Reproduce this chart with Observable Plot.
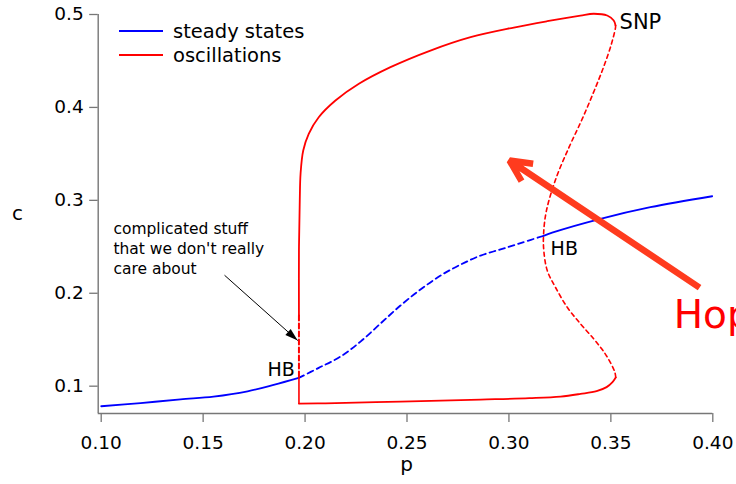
<!DOCTYPE html>
<html>
<head>
<meta charset="utf-8">
<script src="https://cdn.jsdelivr.net/npm/d3@7"></script>
<script src="https://cdn.jsdelivr.net/npm/@observablehq/plot@0.6"></script>
<style>
  html, body { margin: 0; padding: 0; background: #fff; overflow: hidden; }
  #chart { position: relative; width: 736px; height: 484px; }
  .legend { position: absolute; left: 119px; top: 19px; font-family: "DejaVu Sans", sans-serif; font-size: 19.5px; color: #000; }
  .legend .row { display: flex; align-items: center; height: 24px; white-space: nowrap; }
  .legend .sw { display: inline-block; width: 44px; height: 1.7px; margin-right: 10px; }
</style>
</head>
<body>
<div id="chart"></div>
<script>
// Bifurcation diagram: c versus p. Each branch is a list of [p, c] pairs.

// Steady states (blue): stable below the first Hopf point, unstable between, stable above
const steadyLow = [
  [0.1000, 0.0784], [0.1193, 0.0818], [0.1389, 0.0858], [0.1551, 0.0888],
  [0.1718, 0.0945], [0.1846, 0.1014], [0.1969, 0.1089]
];
const steadyUnstable = [
  [0.1969, 0.1089], [0.2067, 0.1197], [0.2174, 0.1319], [0.2272, 0.1480],
  [0.2370, 0.1674], [0.2468, 0.1868], [0.2566, 0.2040], [0.2665, 0.2191],
  [0.2763, 0.2309], [0.2861, 0.2406], [0.2959, 0.2472], [0.3057, 0.2540],
  [0.3170, 0.2618]
];
const steadyHigh = [
  [0.3170, 0.2618], [0.3212, 0.2652], [0.3449, 0.2801], [0.3694, 0.2926], [0.3997, 0.3044]
];

// Oscillations (red): maximum and minimum of the limit cycle
const oscMaxStable = [
  [0.1970, 0.1760], [0.1970, 0.2460], [0.1974, 0.2998], [0.1978, 0.3289],
  [0.1991, 0.3536], [0.2018, 0.3716], [0.2067, 0.3894], [0.2149, 0.4074],
  [0.2264, 0.4254], [0.2419, 0.4433], [0.2615, 0.4612], [0.2812, 0.4756],
  [0.3024, 0.4860], [0.3188, 0.4928], [0.3351, 0.4989], [0.3416, 0.5008],
  [0.3482, 0.4989], [0.3514, 0.4935], [0.3523, 0.4882]
];
const oscUnstable = [
  [0.3523, 0.4882], [0.3523, 0.4863], [0.3503, 0.4685], [0.3464, 0.4433],
  [0.3412, 0.4146], [0.3356, 0.3859], [0.3295, 0.3572], [0.3233, 0.3249],
  [0.3184, 0.2890], [0.3170, 0.2639], [0.3171, 0.2460], [0.3188, 0.2244],
  [0.3228, 0.2065], [0.3286, 0.1849], [0.3351, 0.1671], [0.3416, 0.1509],
  [0.3468, 0.1362], [0.3503, 0.1233], [0.3520, 0.1147], [0.3524, 0.1093]
];
const oscMinStable = [
  [0.1970, 0.0813], [0.2100, 0.0816], [0.2468, 0.0834], [0.2861, 0.0856],
  [0.3100, 0.0871], [0.3253, 0.0888], [0.3351, 0.0917], [0.3430, 0.0947],
  [0.3479, 0.0990], [0.3508, 0.1044], [0.3524, 0.1093]
];
const oscDrop = [[0.1970, 0.1089], [0.1970, 0.0813]];
const oscNearHB = [[0.1970, 0.1760], [0.1970, 0.1089]];

// Labelled points
const hopfLow = [{p: 0.1969, c: 0.1089, label: "HB"}];
const hopfHigh = [{p: 0.3170, c: 0.2618, label: "HB"}];
const saddleNode = [{p: 0.3523, c: 0.4882, label: "SNP"}];

// Annotations
const noteText = "complicated stuff\nthat we don't really\ncare about";
const noteAt = [{p: 0.106, c: 0.2797}];
const noteArrow = [{x1: 0.1605, y1: 0.2194, x2: 0.1964, y2: 0.1491}];
const hopfArrow = [{x1: 0.3935, y1: 0.2061, x2: 0.3003, y2: 0.3428}];

// Axes
const xTicks = [0.10, 0.15, 0.20, 0.25, 0.30, 0.35, 0.40];
const yTicks = [0.1, 0.2, 0.3, 0.4, 0.5];
const xDomain = [0.1, 0.4];
const yDomain = [0.0706, 0.5];

const legendItems = [
  {label: "steady states", color: "#0000ff"},
  {label: "oscillations", color: "#ff0000"}
];

const P = d => d[0], C = d => d[1];

// Narrow filled arrowhead, tip at the origin pointing up
const arrowHead = {
  draw(context) {
    context.moveTo(0, 0);
    context.lineTo(4, 13);
    context.lineTo(-4, 13);
    context.closePath();
  }
};

const chart = Plot.plot({
  width: 736,
  height: 484,
  marginTop: 14,
  marginBottom: 71,
  marginLeft: 97.7,
  marginRight: 23.7,
  style: {fontFamily: "DejaVu Sans, sans-serif", background: "#fff", overflow: "hidden"},
  x: {domain: xDomain, range: [100.7, 712.3]},
  y: {domain: yDomain},
  marks: [
    // axis lines, ticks and tick labels
    Plot.ruleX([xDomain[0]], {dx: -3, stroke: "#777", strokeWidth: 1.4}),
    Plot.ruleY([yDomain[0]], {stroke: "#777", strokeWidth: 1.4}),
    Plot.axisX({ticks: xTicks, tickFormat: d3.format(".2f"), tickSize: 9, tickPadding: 13,
      fontSize: 18.5, stroke: "#777", strokeWidth: 1.3, label: null}),
    Plot.axisY({ticks: yTicks, tickFormat: d3.format(".1f"), tickSize: 8.5, tickPadding: 6,
      fontSize: 18.5, stroke: "#777", strokeWidth: 1.3, label: null}),
    Plot.text(["c"], {frameAnchor: "left", dx: -80.7, fontSize: 20, textAnchor: "middle", lineAnchor: "middle"}),
    Plot.text(["p"], {frameAnchor: "bottom", dx: 1, dy: 57, fontSize: 20, textAnchor: "middle", lineAnchor: "bottom"}),

    // steady states
    Plot.line(steadyLow, {x: P, y: C, stroke: "#0000ff", strokeWidth: 1.8, curve: "catmull-rom"}),
    Plot.line(steadyUnstable, {x: P, y: C, stroke: "#0000ff", strokeWidth: 1.8, strokeDasharray: "6,4", curve: "catmull-rom"}),
    Plot.line(steadyHigh, {x: P, y: C, stroke: "#0000ff", strokeWidth: 1.8, curve: "catmull-rom"}),

    // oscillations
    Plot.line(oscMaxStable, {x: P, y: C, stroke: "#ff0000", strokeWidth: 1.8, curve: "catmull-rom"}),
    Plot.line(oscUnstable, {x: P, y: C, stroke: "#ff0000", strokeWidth: 1.6, strokeDasharray: "4,3.5", curve: "catmull-rom"}),
    Plot.line(oscMinStable, {x: P, y: C, stroke: "#ff0000", strokeWidth: 1.8, curve: "catmull-rom"}),
    Plot.line(oscDrop, {x: P, y: C, stroke: "#ff0000", strokeWidth: 1.6}),
    Plot.line(oscNearHB, {x: P, y: C, stroke: "#ff0000", strokeWidth: 2, strokeDasharray: "5,3"}),

    // point labels
    Plot.text(hopfLow, {x: "p", y: "c", text: "label", textAnchor: "end", dx: -4, dy: -2,
      lineAnchor: "bottom", fontSize: 19, fill: "#000"}),
    Plot.text(hopfHigh, {x: "p", y: "c", text: "label", textAnchor: "start", dx: 7, dy: 19,
      lineAnchor: "bottom", fontSize: 19, fill: "#000"}),
    Plot.text(saddleNode, {x: "p", y: "c", text: "label", textAnchor: "start", dx: 4, dy: 4,
      lineAnchor: "bottom", fontSize: 21, fill: "#000"}),

    // note with its pointer
    Plot.text(noteAt, {x: "p", y: "c", text: () => noteText, textAnchor: "start", lineAnchor: "top",
      lineHeight: 1.3, fontSize: 15.5, fill: "#000"}),
    Plot.link(noteArrow, {x1: "x1", y1: "y1", x2: "x2", y2: "y2", stroke: "#000", strokeWidth: 1}),
    Plot.dot(noteArrow, {x: "x2", y: "y2", symbol: arrowHead, rotate: 131.7, fill: "#000", stroke: "none", r: 5}),

    // big pointer with its caption
    Plot.arrow(hopfArrow, {x1: "x1", y1: "y1", x2: "x2", y2: "y2", stroke: "#ff3b1e", strokeWidth: 6.5,
      headLength: 5.5, headAngle: 52, strokeLinecap: "butt", strokeLinejoin: "miter", ariaLabel: "hopf-arrow"}),
    Plot.text(hopfArrow, {x: "x1", y: "y1", text: () => "Hopf", dx: -25.8, dy: 40, textAnchor: "start",
      lineAnchor: "bottom", fontSize: 39, fill: "#ff0000"})
  ]
});

d3.select(chart).select('g[aria-label="hopf-arrow"]')
  .style("filter", "drop-shadow(3px 4px 3px rgba(0,0,0,0.35))");

const holder = document.getElementById("chart");
holder.appendChild(chart);

const legend = d3.select(holder).append("div").attr("class", "legend");
const rows = legend.selectAll(".row").data(legendItems).join("div").attr("class", "row");
rows.append("span").attr("class", "sw").style("background-color", d => d.color);
rows.append("span").text(d => d.label);
</script>
</body>
</html>
